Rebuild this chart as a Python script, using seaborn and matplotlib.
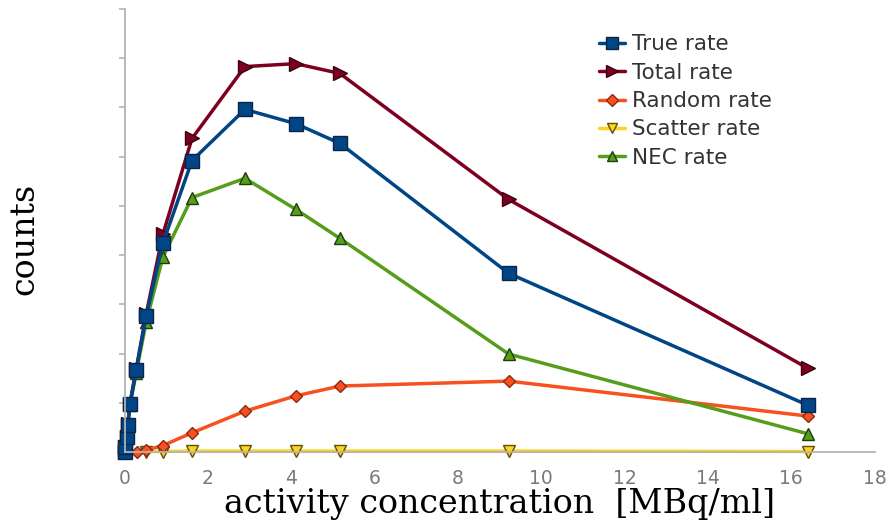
import matplotlib
matplotlib.use("Agg")
import matplotlib.pyplot as plt
import seaborn as sns
import pandas as pd
from matplotlib.lines import Line2D

# ---- data ----
x_main = [0.0, 0.02, 0.05, 0.08, 0.13, 0.28, 0.52, 0.92, 1.62, 2.89, 4.11, 5.17, 9.22, 16.4]
true_rate = [0.0, 0.1, 0.3, 0.55, 0.97, 1.66, 2.76, 4.24, 5.92, 6.96, 6.67, 6.27, 3.63, 0.95]
total_rate = [0.0, 0.1, 0.3, 0.56, 0.98, 1.68, 2.8, 4.42, 6.37, 7.83, 7.89, 7.69, 5.13, 1.70]
nec_rate = [0.0, 0.1, 0.3, 0.54, 0.95, 1.6, 2.64, 3.96, 5.17, 5.56, 4.93, 4.34, 1.99, 0.37]

x_random = [0.0, 0.3, 0.52, 0.92, 1.62, 2.89, 4.11, 5.17, 9.22, 16.4]
random_rate = [0.0, 0.0, 0.04, 0.13, 0.39, 0.83, 1.14, 1.34, 1.44, 0.73]

x_scatter = [0.52, 0.92, 1.62, 2.89, 4.11, 5.17, 9.22, 16.4]
scatter_rate = [0.01, 0.01, 0.02, 0.02, 0.02, 0.02, 0.02, 0.01]

x_ticks = [0, 2, 4, 6, 8, 10, 12, 14, 16, 18]
y_ticks = [0, 1, 2, 3, 4, 5, 6, 7, 8, 9]

series = [
    ("True rate", x_main, true_rate, "#004586", "#0d2447", "s", 9.5),
    ("Total rate", x_main, total_rate, "#7e0021", "#3a0010", ">", 9.5),
    ("Random rate", x_random, random_rate, "#f8501e", "#8a2a10", "D", 6.5),
    ("Scatter rate", x_scatter, scatter_rate, "#ffd320", "#5e5000", "v", 8.5),
    ("NEC rate", x_main, nec_rate, "#579d1c", "#1f3d08", "^", 8.5),
]

sns.set_style("white")
fig = plt.figure(figsize=(8.91, 5.25), dpi=100)
ax = fig.add_axes([124.5 / 891, 1 - 452 / 525, 750 / 891, 443 / 525])

draw_order = ["Scatter rate", "Random rate", "NEC rate", "Total rate", "True rate"]
for name in draw_order:
    label, xs, ys, col, ec, mk, ms = [s for s in series if s[0] == name][0]
    df = pd.DataFrame({"x": xs, "y": ys})
    sns.lineplot(data=df, x="x", y="y", ax=ax, color=col, lw=2.5,
                 marker=mk, markersize=ms, markeredgecolor=ec,
                 markeredgewidth=1.0, sort=False, label=label,
                 clip_on=False, legend=False)

leg_handles = [Line2D([], [], color=col, lw=2.5, marker=mk, markersize=ms * 0.9,
                      markeredgecolor=ec, markeredgewidth=1.0)
               for (_, _, _, col, ec, mk, ms) in series]
leg_labels = [s[0] for s in series]
leg = ax.legend(leg_handles, leg_labels, loc="upper left",
                bbox_to_anchor=(0.633, 0.943), frameon=False, borderpad=0,
                borderaxespad=0, handlelength=1.2, handletextpad=0.3,
                labelspacing=0.39, prop={"family": "DejaVu Sans", "size": 15.5})
for t in leg.get_texts():
    t.set_color("#333333")

ax.set_xlim(0, 18)
ax.set_ylim(0, 9)
ax.set_xticks(x_ticks)
ax.set_xticklabels([str(v) for v in x_ticks])
ax.set_yticks(y_ticks)
ax.set_yticklabels([])
for side in ["top", "right"]:
    ax.spines[side].set_visible(False)
for side in ["left", "bottom"]:
    ax.spines[side].set_color("#b3b3b3")
    ax.spines[side].set_linewidth(1.3)
ax.tick_params(axis="both", direction="out", length=4, width=1.2, color="#b3b3b3")
ax.tick_params(axis="x", labelsize=13.5, labelcolor="#7a7a7a", pad=8)
ax.tick_params(axis="y", left=True)

ax.set_xlabel("activity concentration  [MBq/ml]", fontfamily="DejaVu Serif",
              fontsize=24, color="black", labelpad=0)
ax.set_ylabel("counts", fontfamily="DejaVu Serif", fontsize=24, color="black",
              labelpad=0)
ax.yaxis.set_label_coords(-0.112, 0.48)

fig.savefig("out.png", dpi=100)
